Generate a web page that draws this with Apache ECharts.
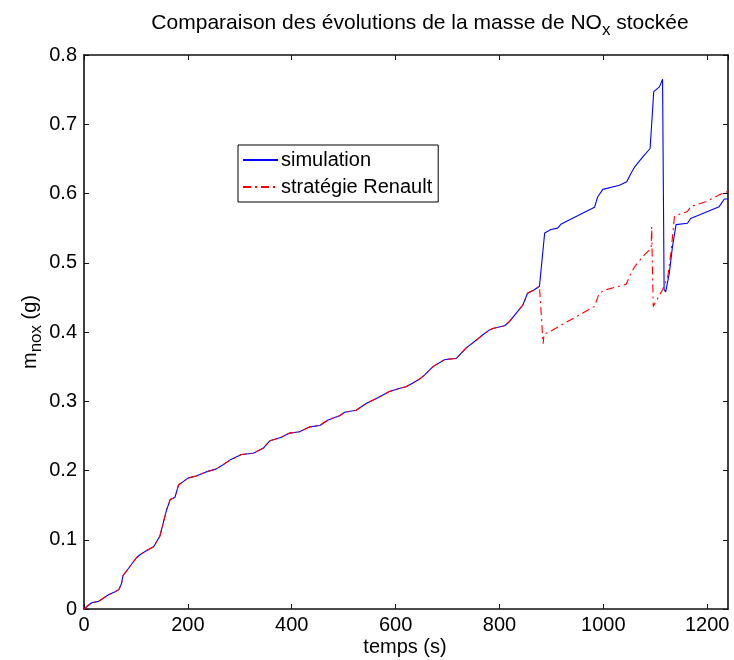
<!DOCTYPE html>
<html>
<head>
<meta charset="utf-8">
<script src="https://cdn.jsdelivr.net/npm/echarts@6/dist/echarts.min.js"></script>
<style>html,body{margin:0;padding:0;background:#fff;}#c{width:734px;height:660px;}</style>
</head>
<body>
<div id="c"></div>
<script>
// Shared part of both curves (time in s, mass in g)
const commonT = [0, 8, 15, 28, 40, 48, 60, 67, 72, 75, 88, 101, 107, 120, 134, 146, 159, 166, 175, 182, 191, 200, 216, 235, 254, 267, 281, 303, 326, 345, 358, 380, 396, 415, 435, 454, 470, 492, 502, 524, 544, 563, 588, 605, 620, 635, 646, 656, 672, 694, 717, 736, 755, 768, 781, 787, 810, 819, 832, 845, 854, 867, 877];
const commonV = [0, 0.005, 0.009, 0.011, 0.017, 0.021, 0.025, 0.028, 0.036, 0.048, 0.061, 0.074, 0.078, 0.084, 0.090, 0.105, 0.143, 0.158, 0.161, 0.179, 0.184, 0.189, 0.192, 0.198, 0.202, 0.208, 0.215, 0.223, 0.225, 0.232, 0.243, 0.248, 0.254, 0.256, 0.263, 0.265, 0.273, 0.279, 0.284, 0.287, 0.297, 0.304, 0.314, 0.318, 0.321, 0.327, 0.332, 0.338, 0.350, 0.360, 0.362, 0.377, 0.388, 0.396, 0.403, 0.405, 0.409, 0.415, 0.427, 0.439, 0.456, 0.461, 0.466];
// Simulation tail
const simT = [887, 899, 912, 919, 983, 989, 999, 1031, 1045, 1053, 1060, 1076, 1090, 1097, 1108, 1114, 1117, 1120, 1127, 1133, 1140, 1162, 1168, 1223, 1233, 1240];
const simV = [0.543, 0.548, 0.550, 0.556, 0.580, 0.595, 0.606, 0.612, 0.617, 0.629, 0.638, 0.653, 0.665, 0.747, 0.754, 0.765, 0.461, 0.458, 0.485, 0.523, 0.555, 0.557, 0.564, 0.581, 0.592, 0.592];
// Renault strategy tail
const renT = [884, 886, 893, 983, 992, 1005, 1044, 1053, 1060, 1076, 1092, 1093, 1096, 1105, 1114, 1124, 1130, 1137, 1146, 1162, 1168, 1197, 1223, 1240];
const renV = [0.383, 0.397, 0.399, 0.437, 0.456, 0.461, 0.469, 0.485, 0.494, 0.509, 0.521, 0.552, 0.437, 0.449, 0.461, 0.480, 0.514, 0.567, 0.570, 0.574, 0.581, 0.588, 0.598, 0.603];

const seriesNames = ['simulation', 'stratégie Renault'];
const xTicks = [0, 200, 400, 600, 800, 1000, 1200];
const yTicks = [0, 0.1, 0.2, 0.3, 0.4, 0.5, 0.6, 0.7, 0.8];

function pairs(t, v) { return t.map((x, i) => [x, v[i]]); }
const simData = pairs(commonT.concat(simT), commonV.concat(simV));
const renData = pairs(commonT.concat(renT), commonV.concat(renV));

const FONT = 'Liberation Sans, Arial, Helvetica, sans-serif';
const chart = echarts.init(document.getElementById('c'), null, {renderer: 'canvas'});

const axisCommon = {
  axisLine: {show: true, onZero: false, lineStyle: {color: '#111', width: 1.6}},
  axisTick: {show: true, inside: true, length: 5, lineStyle: {color: '#111', width: 1}},
  splitLine: {show: false}
};

chart.setOption({
  animation: false,
  backgroundColor: '#fff',
  grid: {left: 84, right: 6, top: 55, bottom: 51, containLabel: false},
  xAxis: [
    Object.assign({type: 'value', min: 0, max: 1240, interval: 200, position: 'bottom',
      axisLabel: {show: true, color: '#000', fontSize: 20, fontFamily: FONT, margin: 6, showMaxLabel: false,
        formatter: v => (xTicks.indexOf(v) >= 0 ? String(v) : '')}}, axisCommon),
    Object.assign({type: 'value', min: 0, max: 1240, interval: 200, position: 'top',
      axisLabel: {show: false}}, axisCommon)
  ],
  yAxis: [
    Object.assign({type: 'value', min: 0, max: 0.8, interval: 0.1, position: 'left',
      axisLabel: {show: true, color: '#000', fontSize: 20, fontFamily: FONT, margin: 7,
        formatter: v => { const t = yTicks.find(k => Math.abs(k - v) < 1e-9); return t === undefined ? '' : String(+t.toFixed(1)); }}}, axisCommon),
    Object.assign({type: 'value', min: 0, max: 0.8, interval: 0.1, position: 'right',
      axisLabel: {show: false}}, axisCommon)
  ],
  legend: {
    orient: 'vertical', left: 238, top: 145,
    backgroundColor: '#fff', borderColor: '#000', borderWidth: 1, borderRadius: 0,
    padding: [5, 6, 5, 4], itemGap: 7, itemWidth: 35, itemHeight: 14,
    itemStyle: {opacity: 0},
    textStyle: {color: '#000', fontSize: 20, fontFamily: FONT, padding: [0, 0, 0, -2]},
    data: seriesNames
  },
  series: [
    {name: seriesNames[0], type: 'line', data: simData, symbol: 'none', showSymbol: false,
      lineStyle: {color: '#0000ff', width: 1.1}, itemStyle: {color: '#0000ff'}, z: 2},
    {name: seriesNames[1], type: 'line', data: renData, symbol: 'none', showSymbol: false,
      lineStyle: {color: '#ff0000', width: 1.1, type: [8, 4, 2, 4]}, itemStyle: {color: '#ff0000'}, z: 3}
  ],
  graphic: [
    {type: 'text', x: 420, y: 23, z: 10,
      style: {text: 'Comparaison des évolutions de la masse de NO{s|x} stockée', font: '21px ' + FONT, fill: '#000',
        align: 'center', verticalAlign: 'middle', lineHeight: 32,
        rich: {s: {fontSize: 17, fontFamily: FONT, lineHeight: 14, verticalAlign: 'bottom', fill: '#000'}}}},
    {type: 'text', x: 405, y: 647, z: 10,
      style: {text: 'temps (s)', font: '20px ' + FONT, fill: '#000', align: 'center', verticalAlign: 'middle'}},
    {type: 'text', x: 30, y: 332, rotation: Math.PI / 2, z: 10,
      style: {text: 'm{s|nox} (g)', font: '20px ' + FONT, fill: '#000', align: 'center', verticalAlign: 'middle', lineHeight: 30,
        rich: {s: {fontSize: 17, fontFamily: FONT, lineHeight: 14, verticalAlign: 'bottom', fill: '#000'}}}}
  ]
});
</script>
</body>
</html>
